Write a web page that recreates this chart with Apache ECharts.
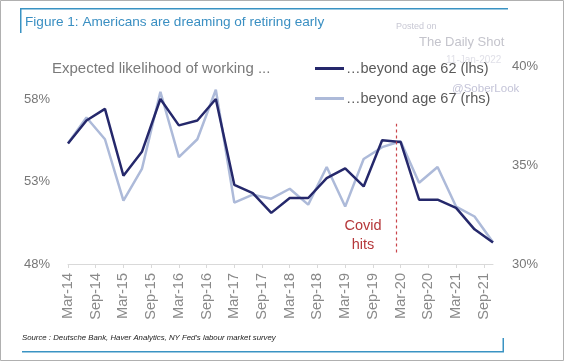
<!DOCTYPE html>
<html>
<head>
<meta charset="utf-8">
<script src="https://cdn.jsdelivr.net/npm/echarts@6/dist/echarts.min.js"></script>
<style>
html,body{margin:0;padding:0;background:#fff;}
#c{width:564px;height:361px;}
</style>
</head>
<body>
<div id="c"></div>
<script>
// Survey dates (NY Fed SCE labour market survey, every 4 months)
var surveyDates = ['Mar-14','Jul-14','Nov-14','Mar-15','Jul-15','Nov-15','Mar-16','Jul-16','Nov-16',
  'Mar-17','Jul-17','Nov-17','Mar-18','Jul-18','Nov-18','Mar-19','Jul-19','Nov-19',
  'Mar-20','Jul-20','Nov-20','Mar-21','Jul-21','Nov-21'];
// ...beyond age 62 (lhs), %
var age62 = [55.3, 56.7, 57.4, 53.35, 54.8, 58.0, 56.4, 56.7, 58.0, 52.8, 52.3, 51.1,
  52.0, 52.0, 53.2, 53.8, 52.7, 55.5, 55.4, 51.9, 51.9, 51.4, 50.1, 49.3];
// ...beyond age 67 (rhs), %
var age67 = [36.1, 37.4, 36.3, 33.2, 34.8, 38.7, 35.4, 36.3, 38.8, 33.1, 33.5, 33.3,
  33.8, 33.0, 34.9, 32.9, 35.3, 35.9, 36.2, 34.1, 34.9, 32.9, 32.4, 31.1];
var leftTicks = [48, 53, 58];
var rightTicks = [30, 35, 40];
var covidMonth = 'Feb-20';
var covidRange = [48.7, 56.5];

// monthly category axis Mar-14 .. Nov-21
var mon = ['Jan','Feb','Mar','Apr','May','Jun','Jul','Aug','Sep','Oct','Nov','Dec'];
var months = [];
for (var y = 14; y <= 21; y++) {
  for (var m = 0; m < 12; m++) {
    if (y === 14 && m < 2) continue;
    if (y === 21 && m > 10) continue;
    months.push(mon[m] + '-' + y);
  }
}
function toSeries(vals) {
  var d = months.map(function () { return null; });
  surveyDates.forEach(function (s, i) { d[months.indexOf(s)] = vals[i]; });
  return d;
}

var FONT = '"Liberation Sans", Arial, sans-serif';
var chart = echarts.init(document.getElementById('c'));
chart.setOption({
  animation: false,
  textStyle: {fontFamily: FONT},
  grid: {left: 68, right: 71, top: 66, bottom: 97},
  legend: {
    orient: 'vertical', left: 310, top: 56, itemWidth: 29, itemHeight: 3, itemGap: 15,
    icon: 'rect',
    textStyle: {fontSize: 14.5, color: '#5a5a5a', fontFamily: FONT, padding: [0, 0, 0, -3]},
    data: ['…beyond age 62 (lhs)', '…beyond age 67 (rhs)']
  },
  xAxis: {
    type: 'category', data: months, boundaryGap: false,
    axisLine: {lineStyle: {color: '#d9d9d9'}},
    axisTick: {interval: 5, lineStyle: {color: '#d9d9d9'}, length: 4},
    axisLabel: {interval: 5, rotate: 90, color: '#8a8a8a', fontSize: 14.5, margin: 9},
    splitLine: {show: false}
  },
  yAxis: [{
    type: 'value', min: 48, max: 60, interval: 5,
    axisLabel: {color: '#777', fontSize: 13, margin: 18, showMaxLabel: false,
      formatter: function (v) { return leftTicks.indexOf(v) >= 0 ? v + '%' : ''; }},
    axisLine: {show: false}, axisTick: {show: false}, splitLine: {show: false}
  }, {
    type: 'value', min: 30, max: 40, interval: 5,
    axisLabel: {color: '#777', fontSize: 13, margin: 19,
      formatter: function (v) { return rightTicks.indexOf(v) >= 0 ? v + '%' : ''; }},
    axisLine: {show: false}, axisTick: {show: false}, splitLine: {show: false}
  }],
  series: [{
    name: '…beyond age 67 (rhs)', type: 'line', yAxisIndex: 1, z: 2,
    data: toSeries(age67), connectNulls: true, showSymbol: false, symbol: 'none',
    lineStyle: {color: '#adbad9', width: 2.5}, itemStyle: {color: '#adbad9'}
  }, {
    name: '…beyond age 62 (lhs)', type: 'line', yAxisIndex: 0, z: 3,
    data: toSeries(age62), connectNulls: true, showSymbol: false, symbol: 'none',
    lineStyle: {color: '#25286b', width: 2.5}, itemStyle: {color: '#25286b'},
    markLine: {
      silent: true, symbol: ['none', 'none'],
      lineStyle: {color: '#c9444a', type: [3, 3], width: 1.2},
      label: {show: false},
      data: [[{coord: [covidMonth, covidRange[0]]}, {coord: [covidMonth, covidRange[1]]}]]
    }
  }],
  graphic: [
    {type: 'rect', shape: {x: 0.5, y: 0.5, width: 563, height: 360}, style: {fill: 'none', stroke: '#b0b0b0', lineWidth: 1}},
    {type: 'rect', shape: {x: 20, y: 8, width: 488, height: 1.5}, style: {fill: '#3a93c3'}},
    {type: 'rect', shape: {x: 20, y: 8, width: 1.5, height: 25}, style: {fill: '#3a93c3'}},
    {type: 'text', left: 25, top: 15, style: {text: 'Figure 1: Americans are dreaming of retiring early', fill: '#3a8fc2', font: '13.6px ' + FONT}},
    {type: 'text', left: 52, top: 61, style: {text: 'Expected likelihood of working ...', fill: '#7a7a7a', font: '15px ' + FONT}},
    {type: 'text', left: 396, top: 22, style: {text: 'Posted on', fill: '#c8c8d4', font: '9px ' + FONT}},
    {type: 'text', left: 419, top: 36, style: {text: 'The Daily Shot', fill: '#c4c4cc', font: '13px ' + FONT}},
    {type: 'text', left: 446, top: 55, style: {text: '11-Jan-2022', fill: '#e0e0e8', font: '10px ' + FONT}},
    {type: 'text', left: 452, top: 83, style: {text: '@SoberLook', fill: '#c4c4d8', font: '11.5px ' + FONT}},
    {type: 'text', x: 363, y: 216, style: {text: 'Covid\nhits', fill: '#b5373a', font: '14.5px ' + FONT, align: 'center', lineHeight: 19}},
    {type: 'text', left: 22, top: 334, style: {text: "Source : Deutsche Bank, Haver Analytics, NY Fed's labour market survey", fill: '#222', font: 'italic 7.8px ' + FONT}},
    {type: 'rect', shape: {x: 22, y: 351, width: 482, height: 1.5}, style: {fill: '#3a93c3'}},
    {type: 'rect', shape: {x: 502.5, y: 338, width: 1.5, height: 14}, style: {fill: '#3a93c3'}}
  ]
});
</script>
</body>
</html>
